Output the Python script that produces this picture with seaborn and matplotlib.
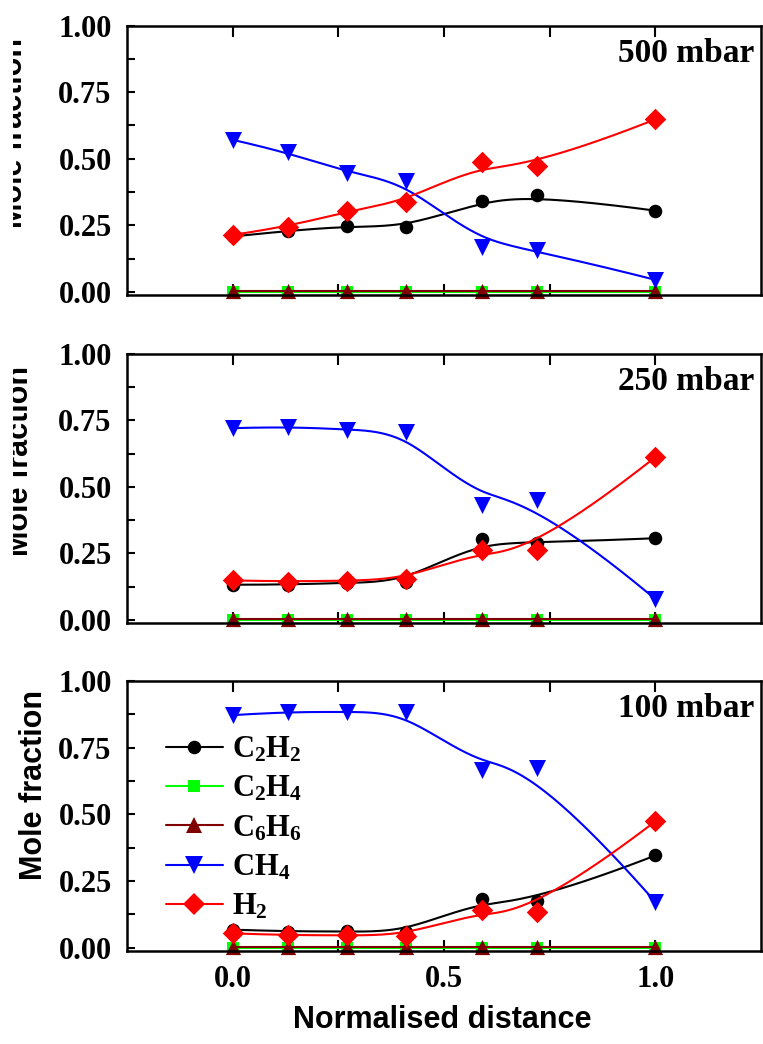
import numpy as np
import matplotlib
matplotlib.use("Agg")
import matplotlib.pyplot as plt
import seaborn as sns
from matplotlib.lines import Line2D
from matplotlib.ticker import FixedLocator, MultipleLocator
from matplotlib.transforms import Bbox, TransformedBbox

# ---------------- data ----------------
distance = [0.0, 0.13, 0.27, 0.41, 0.59, 0.72, 1.0]
species = ["C2H2", "C2H4", "C6H6", "CH4", "H2"]
species_labels = [r"C$_2$H$_2$", r"C$_2$H$_4$", r"C$_6$H$_6$", r"CH$_4$", r"H$_2$"]
pressures = ["500 mbar", "250 mbar", "100 mbar"]

c2h2_500 = [0.208, 0.229, 0.248, 0.242, 0.342, 0.364, 0.305]
c2h4_500 = [0.0, 0.0, 0.0, 0.0, 0.0, 0.0, 0.0]
c6h6_500 = [0.002, 0.002, 0.002, 0.002, 0.002, 0.002, 0.002]
ch4_500 = [0.571, 0.525, 0.445, 0.415, 0.170, 0.158, 0.045]
h2_500 = [0.214, 0.244, 0.304, 0.339, 0.486, 0.473, 0.648]

c2h2_250 = [0.132, 0.132, 0.140, 0.142, 0.305, 0.288, 0.307]
c2h4_250 = [0.0, 0.0, 0.0, 0.0, 0.0, 0.0, 0.0]
c6h6_250 = [0.002, 0.002, 0.002, 0.002, 0.002, 0.002, 0.002]
ch4_250 = [0.721, 0.727, 0.715, 0.708, 0.432, 0.449, 0.078]
h2_250 = [0.148, 0.144, 0.147, 0.153, 0.263, 0.261, 0.612]

c2h2_100 = [0.068, 0.061, 0.062, 0.058, 0.183, 0.174, 0.346]
c2h4_100 = [0.0, 0.0, 0.0, 0.0, 0.0, 0.0, 0.0]
c6h6_100 = [0.002, 0.002, 0.002, 0.002, 0.002, 0.002, 0.002]
ch4_100 = [0.872, 0.885, 0.883, 0.885, 0.665, 0.675, 0.172]
h2_100 = [0.054, 0.047, 0.047, 0.046, 0.141, 0.136, 0.474]

panels = [
    [c2h2_500, c2h4_500, c6h6_500, ch4_500, h2_500],
    [c2h2_250, c2h4_250, c6h6_250, ch4_250, h2_250],
    [c2h2_100, c2h4_100, c6h6_100, ch4_100, h2_100],
]

x_major = [0.0, 0.5, 1.0]
x_minor = [0.25, 0.75]
x_ticklabels = ["0.0", "0.5", "1.0"]
y_major = [0.0, 0.25, 0.5, 0.75, 1.0]
y_ticklabels = ["0.00", "0.25", "0.50", "0.75", "1.00"]

# ---------------- style ----------------
colors = ["#000000", "#00FF00", "#800000", "#0000FF", "#FF0000"]
markers = ["o", "s", "^", "v", "D"]
sizes = [95, 75, 120, 150, 120]


def bspline_curve(xs, ys, k=3, num=300):
    """Clamped uniform cubic B-spline using the data as control points."""
    P = np.column_stack([xs, ys]).astype(float)
    n = len(P)
    knots = np.concatenate([np.zeros(k), np.arange(0, n - k + 1),
                            np.full(k, n - k)]).astype(float)
    t = np.linspace(0, n - k, num)
    t[-1] -= 1e-9
    m = len(knots) - 1
    N = np.array([((knots[i] <= t) & (t < knots[i + 1])).astype(float)
                  for i in range(m)])
    for p in range(1, k + 1):
        Nn = np.zeros((m - p, len(t)))
        for i in range(m - p):
            d1 = knots[i + p] - knots[i]
            d2 = knots[i + p + 1] - knots[i + 1]
            a = (t - knots[i]) / d1 * N[i] if d1 > 0 else 0.0
            b = (knots[i + p + 1] - t) / d2 * N[i + 1] if d2 > 0 else 0.0
            Nn[i] = a + b
        N = Nn
    curve = N.T @ P
    return curve[:, 0], curve[:, 1]


sns.set_style("ticks")
plt.rcParams["font.family"] = ["Liberation Serif", "DejaVu Serif"]
plt.rcParams["font.weight"] = "bold"
plt.rcParams["mathtext.fontset"] = "custom"
plt.rcParams["mathtext.rm"] = "Liberation Serif:bold"
plt.rcParams["mathtext.bf"] = "Liberation Serif:bold"
plt.rcParams["mathtext.default"] = "regular"
for key in ["text.color", "axes.labelcolor", "xtick.color", "ytick.color", "axes.edgecolor"]:
    plt.rcParams[key] = "black"

W, H = 763, 1044
fig = plt.figure(figsize=(W / 100, H / 100), dpi=100)

ax_px = [(25.7, 295.0), (354.0, 623.0), (681.0, 951.0)]
left_px, right_px = 127, 761

tick_font = {"family": "Liberation Serif", "weight": "bold", "size": 22}
label_font = {"family": "Liberation Sans", "weight": "bold", "size": 22}

axes = []
for pi, (top, bot) in enumerate(ax_px):
    ax = fig.add_axes([left_px / W, 1 - bot / H, (right_px - left_px) / W, (bot - top) / H])
    axes.append(ax)
    data = panels[pi]
    for si in range(len(species)):
        cx, cy = bspline_curve(distance, data[si])
        sns.lineplot(x=cx, y=cy, sort=False, estimator=None, color=colors[si],
                     lw=1.5, ax=ax, legend=False, zorder=2 + si * 0.1)
        sns.scatterplot(x=distance, y=data[si], marker=markers[si], s=sizes[si],
                        color=colors[si], linewidth=0, ax=ax, legend=False,
                        zorder=2.05 + si * 0.1, clip_on=False)

    ax.set_xlim(-0.25, 1.25)
    ax.set_ylim(-0.012, 1.0)
    ax.xaxis.set_major_locator(FixedLocator(x_major))
    ax.xaxis.set_minor_locator(FixedLocator(x_minor))
    ax.yaxis.set_major_locator(FixedLocator(y_major))
    ax.yaxis.set_minor_locator(MultipleLocator(0.125))
    ax.set_yticklabels(y_ticklabels, fontdict=tick_font)
    ax.tick_params(axis="x", which="both", direction="in", top=True, bottom=True,
                   length=8, width=1.5, pad=10, colors="black")
    ax.tick_params(axis="y", which="both", direction="in", left=True, right=False,
                   length=6, width=1.5, pad=11, colors="black")
    if pi == 2:
        ax.set_xticklabels(x_ticklabels, fontdict=tick_font)
    else:
        ax.tick_params(axis="x", labelbottom=False)
    for sp in ax.spines.values():
        sp.set_linewidth(1.8)
        sp.set_color("black")
    ax.set_xlabel("")
    ax.set_ylabel("")
    ax.text(0.99, 0.865, pressures[pi], transform=ax.transAxes, ha="right",
            va="baseline", family="Liberation Serif", weight="bold", size=24)

# y labels (the top two are partly cut off at their left side, as in the source)
ylab_pos = [(29 / W, 1 - 133 / H), (35 / W, 1 - 461 / H), (49 / W, 1 - 785 / H)]
clip = TransformedBbox(Bbox.from_extents(13 / W, 0, 1, 1), fig.transFigure)
for pi, (xl, yl) in enumerate(ylab_pos):
    t = fig.text(xl, yl, "Mole fraction", rotation=90, ha="right", va="center",
                 **label_font)
    if pi < 2:
        t.set_clip_box(clip)
        t.set_clip_on(True)

fig.text(442 / W, 1 - 1020 / H, "Normalised distance", ha="center", va="center",
         **label_font)

handles = [Line2D([], [], color=colors[i], marker=markers[i], lw=1.5,
                  markersize=np.sqrt(sizes[i]), markeredgewidth=0)
           for i in range(len(species))]
axes[2].legend(handles, species_labels, loc="upper left", bbox_to_anchor=(0.061, 0.80),
               frameon=False, handlelength=1.87, handletextpad=0.3, labelspacing=0.32,
               borderaxespad=0, borderpad=0,
               prop={"family": "Liberation Serif", "weight": "bold", "size": 22})

fig.savefig("out.png", dpi=100)
